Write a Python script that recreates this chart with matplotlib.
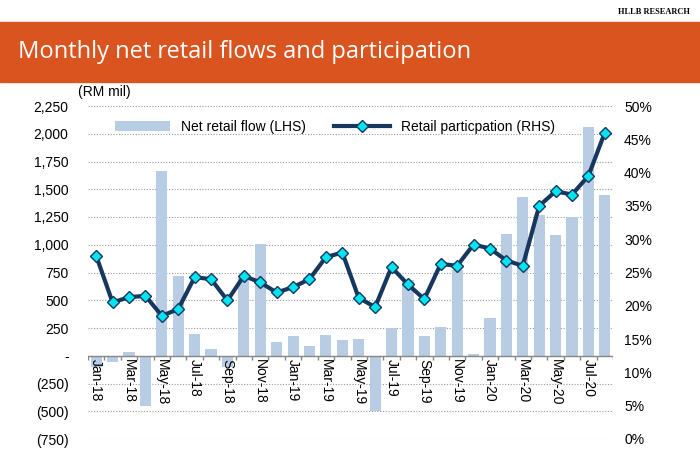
import matplotlib
matplotlib.use("Agg")
import matplotlib.pyplot as plt
import matplotlib.patches as patches
import numpy as np

plt.rcParams["font.family"] = "Liberation Sans"

months = ["Jan-18", "Feb-18", "Mar-18", "Apr-18", "May-18", "Jun-18", "Jul-18", "Aug-18",
          "Sep-18", "Oct-18", "Nov-18", "Dec-18", "Jan-19", "Feb-19", "Mar-19", "Apr-19",
          "May-19", "Jun-19", "Jul-19", "Aug-19", "Sep-19", "Oct-19", "Nov-19", "Dec-19",
          "Jan-20", "Feb-20", "Mar-20", "Apr-20", "May-20", "Jun-20", "Jul-20", "Aug-20"]
net_flow = [-100, -60, 30, -450, 1660, 720, 200, 60, -100, 700, 1010, 120,
            180, 90, 190, 140, 150, -500, 250, 680, 180, 260, 770, 20,
            340, 1100, 1430, 1270, 1090, 1250, 2060, 1450]
participation = [27.5, 20.5, 21.3, 21.5, 18.5, 19.5, 24.3, 24.0, 20.8, 24.5, 23.5, 22.0,
                 22.8, 24.0, 27.3, 28.0, 21.2, 19.8, 25.8, 23.2, 21.0, 26.3, 26.0, 29.2,
                 28.6, 26.8, 26.0, 35.0, 37.2, 36.7, 39.5, 46.0]
left_ticks = [-750, -500, -250, 0, 250, 500, 750, 1000, 1250, 1500, 1750, 2000, 2250]
left_labels = ["(750)", "(500)", "(250)", "-", "250", "500", "750", "1,000", "1,250",
               "1,500", "1,750", "2,000", "2,250"]

fig = plt.figure(figsize=(7, 4.58), dpi=100)
fig.patches.append(patches.Rectangle((0, 1 - 82 / 458), 1, 60 / 458, transform=fig.transFigure,
                                     color="#D9541F", zorder=0))
fig.text(0.025, 1 - 52 / 458, "Monthly net retail flows and participation", color="white",
         fontsize=17, va="center", family="Open Sans")
fig.text(0.985, 1 - 12 / 458, "HLLB RESEARCH", fontsize=6, fontweight="bold", ha="right",
         va="center", family="Liberation Serif")

ax = fig.add_axes([88 / 700, 1 - 439 / 458, 525 / 700, 333 / 458])
x = np.arange(len(months))
ax.bar(x, net_flow, width=0.68, color="#B8CCE4", label="Net retail flow (LHS)", zorder=2)
ax.set_ylim(-750, 2250)
ax.set_xlim(-0.5, len(months) - 0.5)
ax.set_yticks(left_ticks)
ax.set_yticklabels(left_labels)
ax.yaxis.grid(True, linestyle=(0, (1, 1.5)), color="#999999", linewidth=0.8, zorder=0)
ax.set_axisbelow(True)
for s in ax.spines.values():
    s.set_visible(False)
ax.axhline(0, color="#888888", linewidth=1, zorder=3)
ax.vlines(np.append(x - 0.5, x[-1] + 0.5), -40, 0, color="#888888", linewidth=1, zorder=3)
ax.tick_params(axis="y", length=0, labelsize=10, pad=14)
ax.set_xticks([])
for i in x[::2]:
    ax.text(i, -30, months[i], rotation=-90, ha="center", va="top", fontsize=10, zorder=5)
ax.text(-0.02, 1.02, "(RM mil)", transform=ax.transAxes, fontsize=10, ha="left", va="bottom")

ax2 = ax.twinx()
ax2.plot(x, participation, color="#17375E", linewidth=3, marker="D", markersize=6,
         markerfacecolor="#00E5F0", markeredgecolor="#17375E", markeredgewidth=1,
         label="Retail particpation (RHS)", zorder=4)
ax2.set_ylim(0, 50)
ax2.set_yticks(np.arange(0, 51, 5))
ax2.yaxis.set_major_formatter(matplotlib.ticker.FuncFormatter(lambda v, p: f"{v:.0f}%"))
ax2.tick_params(axis="y", length=0, labelsize=10, pad=8)
for s in ax2.spines.values():
    s.set_visible(False)

h1, l1 = ax.get_legend_handles_labels()
h2, l2 = ax2.get_legend_handles_labels()
ax2.legend(h1 + h2, l1 + l2, loc="upper center", bbox_to_anchor=(0.47, 0.995), ncol=2,
           frameon=False, fontsize=10, handlelength=4, columnspacing=2)

fig.savefig("out.png", dpi=100)
